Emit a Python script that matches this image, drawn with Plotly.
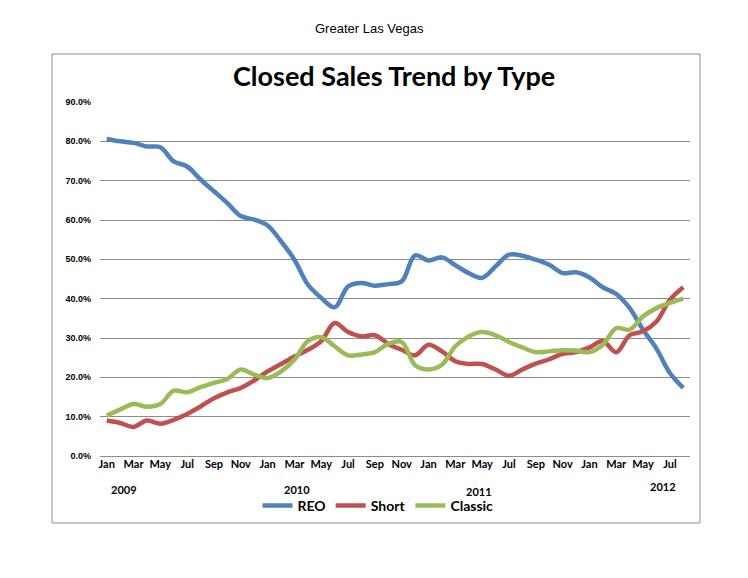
import plotly.graph_objects as go

# ---- data (percent values, Jan 2009 .. Aug 2012) ----
month_names = ["Jan", "Feb", "Mar", "Apr", "May", "Jun",
               "Jul", "Aug", "Sep", "Oct", "Nov", "Dec"]
years = ["2009", "2010", "2011", "2012"]

reo = [80.6, 80.0, 79.6, 78.7, 78.5, 74.9, 73.6, 70.3, 67.3, 64.3, 61.0,
       60.1, 58.6, 54.6, 49.9, 43.6, 40.2, 37.8, 43.1, 44.0, 43.3, 43.7,
       44.4, 51.0, 49.7, 50.5, 48.5, 46.5, 45.3, 48.2, 51.2, 50.9, 49.9,
       48.6, 46.5, 46.7, 45.4, 42.9, 41.2, 37.6, 32.1, 27.3, 21.1, 17.3]
short = [9.0, 8.4, 7.4, 9.0, 8.2, 9.2, 10.7, 12.6, 14.7, 16.2, 17.3,
         19.2, 21.5, 23.4, 25.3, 27.0, 29.2, 33.8, 31.5, 30.4, 30.7, 28.5,
         27.0, 25.6, 28.3, 26.6, 24.1, 23.4, 23.4, 22.0, 20.4, 22.0, 23.5,
         24.6, 26.0, 26.4, 27.6, 29.2, 26.4, 30.7, 31.7, 34.2, 39.7, 42.9]
classic = [10.3, 11.8, 13.2, 12.5, 13.2, 16.6, 16.2, 17.5, 18.6, 19.6, 22.0,
           20.7, 19.8, 21.5, 24.5, 29.2, 30.2, 27.9, 25.6, 25.8, 26.4, 28.5,
           29.0, 23.1, 22.0, 23.2, 27.9, 30.4, 31.5, 30.7, 29.0, 27.6, 26.4,
           26.6, 26.9, 26.8, 26.4, 28.3, 32.5, 32.1, 35.5, 37.6, 38.9, 40.0]

n = len(reo)
x = list(range(n))
labels = [month_names[i % 12] for i in x]

series = [("REO", reo, "#4F81BD"), ("Short", short, "#C0504D"), ("Classic", classic, "#9BBB59")]

fig = go.Figure()
for name, vals, col in series:
    fig.add_trace(go.Scatter(
        x=x, y=[v / 100 for v in vals], name=name, mode="lines",
        line=dict(color=col, width=4.5, shape="spline", smoothing=1.0),
    ))

# page body has an 8px margin, so the figure is 8px smaller and offset
OFF = 8
W, H = 748 - OFF, 578 - OFF
L, R, T, B = 100 - OFF, 58, 102 - OFF, 122
pw, ph = W - L - R, H - T - B

def px(xp):
    return (xp - OFF - L) / pw

def py(yp):
    return (H - (yp - OFF) - B) / ph

fig.update_layout(
    width=W, height=H,
    margin=dict(l=L, r=R, t=T, b=B),
    paper_bgcolor="white", plot_bgcolor="white",
    showlegend=True,
    legend=dict(orientation="h", x=px(378), xanchor="center", y=py(506), yanchor="middle",
                font=dict(family="Lato", size=14, color="black", weight="bold"),
                itemwidth=30, tracegroupgap=0, bgcolor="rgba(0,0,0,0)"),
    xaxis=dict(range=[-0.5, n - 0.5], tickmode="array",
               tickvals=x[::2], ticktext=labels[::2],
               showgrid=False, zeroline=False, showline=False, ticks="",
               tickfont=dict(family="Lato", size=11, color="black", weight="bold")),
    yaxis=dict(range=[0, 0.9], dtick=0.1, tickformat=".1%",
               showgrid=True, gridcolor="#8c8c8c", gridwidth=1,
               zeroline=True, zerolinecolor="#8c8c8c", zerolinewidth=1,
               showline=False, ticks="", ticklabelstandoff=8,
               tickfont=dict(family="Arial", size=9, color="black", weight="bold")),
)

# chart frame
fig.add_shape(type="rect", xref="paper", yref="paper",
              x0=px(52), x1=px(700), y0=py(523), y1=py(54),
              line=dict(color="#8c8c8c", width=1), layer="below")

# titles
fig.add_annotation(text="Greater Las Vegas", xref="paper", yref="paper",
                   x=px(369), y=py(29), showarrow=False, xanchor="center", yanchor="middle",
                   font=dict(family="Arial", size=13, color="black"))
fig.add_annotation(text="<b>Closed Sales Trend by Type</b>", xref="paper", yref="paper",
                   x=px(394), y=py(75), showarrow=False, xanchor="center", yanchor="middle",
                   font=dict(family="Lato", size=27, color="black"))

# year labels under the month ticks
year_pos = [1.3, 14.2, 27.8, 41.5]
year_y = [489, 489, 491, 487]
for yr, xp, yp in zip(years, year_pos, year_y):
    fig.add_annotation(text="<b>" + yr + "</b>", xref="x", yref="paper",
                       x=xp, y=py(yp), showarrow=False, xanchor="center", yanchor="middle",
                       font=dict(family="Lato", size=11, color="black"))

fig.write_html("out.html")
